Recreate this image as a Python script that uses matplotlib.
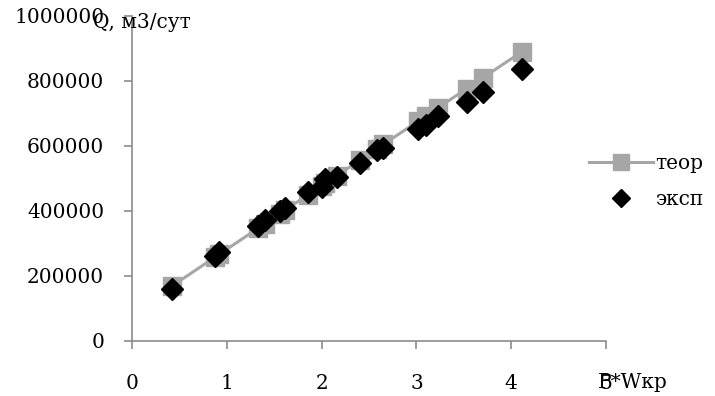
import matplotlib.pyplot as plt

# P*Wкр values and flow rates Q (м3/сут)
pw = [0.42, 0.88, 0.92, 1.33, 1.40, 1.56, 1.61, 1.86, 2.00, 2.04,
      2.16, 2.41, 2.58, 2.65, 3.02, 3.10, 3.23, 3.53, 3.70, 4.11]
q_teor = [168000, 258000, 266000, 346000, 360000, 391000, 401000, 450000, 477000, 485000,
          508000, 557000, 590000, 604000, 676000, 692000, 717000, 776000, 809000, 889000]
q_eksp = [158000, 262000, 274000, 354000, 372000, 400000, 410000, 458000, 472000, 498000,
          505000, 546000, 586000, 594000, 652000, 663000, 692000, 735000, 764000, 836000]

plt.rcParams['font.family'] = ['DejaVu Serif']
fs = 14.5

fig = plt.figure(figsize=(7.15, 3.96), dpi=100)
ax = fig.add_axes([0.1846, 0.1396, 0.663, 0.8205])

ax.plot(pw, q_teor, color='#a6a6a6', lw=2.2, marker='s', ms=13,
        label='теор', zorder=2)
ax.plot(pw, q_eksp, ls='none', color='black', marker='D', ms=11,
        label='эксп', zorder=3)

ax.set_xlim(0, 5)
ax.set_ylim(0, 1000000)
ax.set_xticks(range(6))
ax.set_yticks(range(0, 1000001, 200000))
ax.set_yticklabels([str(v) for v in range(0, 1000001, 200000)])

gray = '#8c8c8c'
for side in ['top', 'right']:
    ax.spines[side].set_visible(False)
for side in ['left', 'bottom']:
    ax.spines[side].set_color(gray)
    ax.spines[side].set_linewidth(1.2)
ax.tick_params(axis='both', colors=gray, labelcolor='black', labelsize=fs,
               length=6, width=1.2, direction='out')
ax.tick_params(axis='x', pad=18)
ax.tick_params(axis='y', pad=14)

fig.text(0.13, 0.942, 'Q, м3/сут', fontsize=fs, ha='left', va='center')
fig.text(0.836, 0.033, 'P*Wкр', fontsize=fs, ha='left', va='center')

ax.legend(loc='center left', bbox_to_anchor=(0.925, 0.49), frameon=False,
          fontsize=fs, handlelength=3.2, handletextpad=0.1, labelspacing=0.85,
          markerscale=0.85)

fig.savefig('out.png', dpi=100)
